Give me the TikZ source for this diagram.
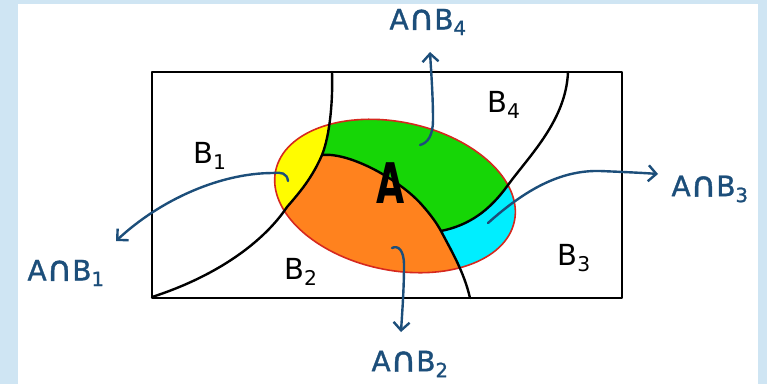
\documentclass[tikz,border=0pt]{standalone}
\usepackage{fontspec}
\setmainfont{DejaVu Sans}
\newfontfamily\handfont[FakeBold=1.2]{DejaVu Sans}
\usetikzlibrary{arrows.meta}
\definecolor{bgblue}{RGB}{207,229,243}
\definecolor{ayellow}{RGB}{255,252,0}
\definecolor{agreen}{RGB}{22,214,6}
\definecolor{aorange}{RGB}{255,130,30}
\definecolor{acyan}{RGB}{0,238,255}
\definecolor{ared}{RGB}{214,40,30}
\definecolor{ablue}{RGB}{28,78,122}
\newcommand{\capsym}{\raisebox{-0.5pt}{\scalebox{1.25}{∩}}}
\begin{document}
\begin{tikzpicture}[x=1pt,y=-1pt,
  bline/.style={black,line width=2.4pt,line cap=round,line join=round},
  arr/.style={ablue,line width=2.4pt,line cap=round,-{Straight Barb[length=8pt,width=16pt,line width=2.4pt]}},
  lab/.style={ablue,font=\handfont\fontsize{28}{32}\selectfont,inner sep=0pt},
  reg/.style={black,font=\fontsize{29}{32}\selectfont,inner sep=0pt}]
% background and margins
\useasboundingbox (0,0) rectangle (767,384);
\fill[bgblue] (0,0) rectangle (767,384);
\fill[white] (18,4) rectangle (758,384);
% key points
\coordinate (p1) at (332,72);
\coordinate (j1) at (322,155);
\coordinate (e1) at (287,207);
\coordinate (bl) at (152,297);
\coordinate (jj) at (441,231);
\coordinate (p2) at (470,298);
\coordinate (e3) at (508,185);
\coordinate (p3) at (568,72);
% set A
\fill[aorange,rotate around={-12:(395,196)}] (395,196) ellipse [x radius=122pt, y radius=74pt];
\begin{scope}
  \clip[rotate around={-12:(395,196)}] (395,196) ellipse [x radius=122pt, y radius=74pt];
  \fill[ayellow] (p1) .. controls (333,100) and (330,135) .. (j1)
     .. controls (312,178) and (300,192) .. (e1)
     .. controls (265,240) and (220,275) .. (bl) -- (100,300) -- (100,60) -- (332,60) -- cycle;
  \fill[agreen] (p1) .. controls (333,100) and (330,135) .. (j1)
     .. controls (350,152) and (400,180) .. (422,205)
     .. controls (430,214) and (436,222) .. (jj)
     .. controls (470,225) and (490,210) .. (e3)
     .. controls (530,155) and (566,120) .. (p3) -- cycle;
  \fill[acyan] (jj) .. controls (452,252) and (464,272) .. (p2)
     -- (650,298) -- (650,72) -- (p3)
     .. controls (566,120) and (530,155) .. (e3)
     .. controls (490,210) and (470,225) .. (jj) -- cycle;
\end{scope}
\draw[ared,line width=1.6pt,rotate around={-12:(395,196)}] (395,196) ellipse [x radius=122pt, y radius=74pt];
% sample space and partition
\draw[bline] (152,72) rectangle (622,298);
\draw[bline] (p1) .. controls (333,100) and (330,135) .. (j1)
     .. controls (312,178) and (300,192) .. (e1)
     .. controls (265,240) and (220,275) .. (bl);
\draw[bline] (j1) .. controls (350,152) and (400,180) .. (422,205)
     .. controls (430,214) and (436,222) .. (jj)
     .. controls (452,252) and (464,272) .. (p2);
\draw[bline] (jj) .. controls (470,225) and (490,210) .. (e3)
     .. controls (530,155) and (566,120) .. (p3);
% region labels
\node[reg] (b1) at (210,156) {B\textsubscript{1}};
\node[reg] (b2) at (301,272) {B\textsubscript{2}};
\node[reg] (b3) at (574,258) {B\textsubscript{3}};
\node[reg] (b4) at (504,105) {B\textsubscript{4}};
\node[inner sep=0pt] (a) at (391,183) {\fontsize{56}{60}\selectfont\bfseries\scalebox{0.65}[1]{A}};
% intersection labels
\node[lab] (l1) at (66,273) {A\capsym B\textsubscript{1}};
\node[lab] (l2) at (410,364) {A\capsym B\textsubscript{2}};
\node[lab] (l3) at (710,189) {A\capsym B\textsubscript{3}};
\node[lab] (l4) at (428,22) {A\capsym B\textsubscript{4}};
% arrows
\coordinate (s1) at (288,181); \coordinate (t1) at (116,241);
\coordinate (s2) at (392,248); \coordinate (t2) at (401,332);
\coordinate (s3) at (488,223); \coordinate (t3) at (658,174);
\coordinate (s4) at (420,145); \coordinate (t4) at (430,52);
\draw[arr] (s1) .. controls (287,173) and (281,172) .. (273,173)
     .. controls (220,173) and (160,200) .. (t1);
\draw[arr] (s2) .. controls (398,245) and (404,250) .. (404,265)
     .. controls (404,290) and (402,315) .. (t2);
\draw[arr] (s3) .. controls (525,190) and (560,170) .. (600,171)
     .. controls (625,172) and (645,173) .. (t3);
\draw[arr] (s4) .. controls (428,143) and (433,135) .. (433,120)
     .. controls (433,95) and (431,70) .. (t4);
\end{tikzpicture}
\end{document}
